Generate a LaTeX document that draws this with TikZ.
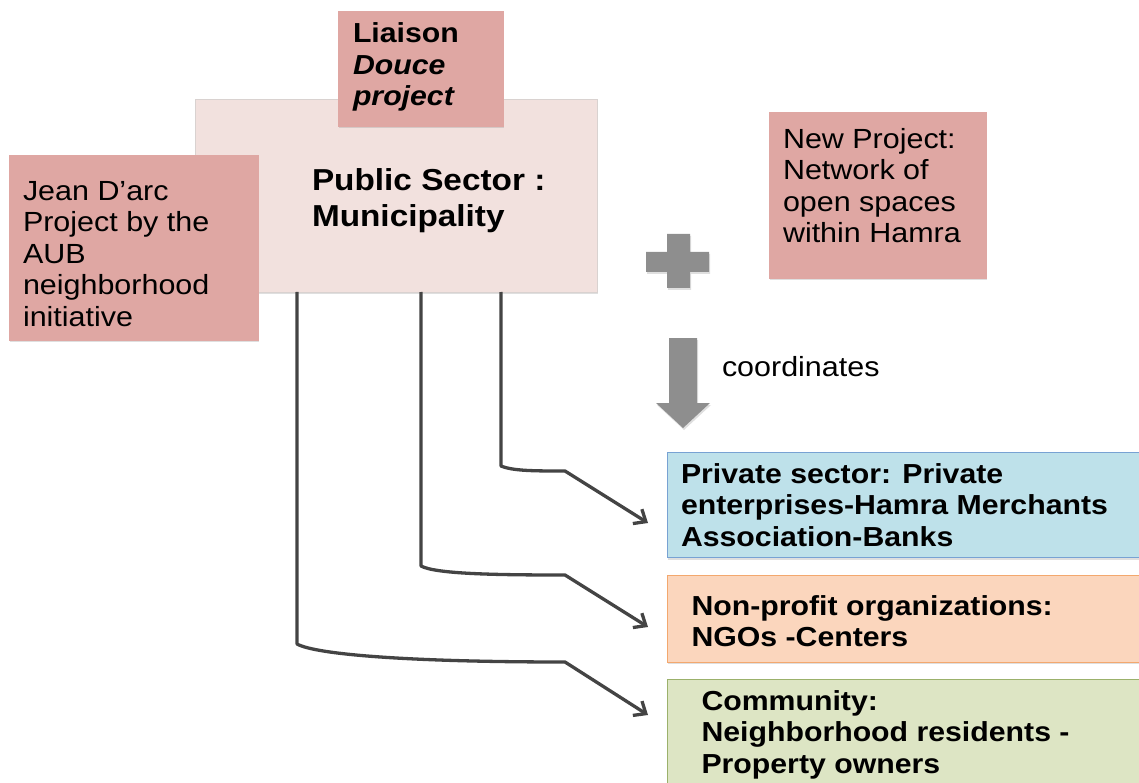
\documentclass[tikz,border=0pt]{standalone}
\usepackage{fontspec}
\setmainfont{Liberation Sans}[FakeStretch=1.1]
\usetikzlibrary{arrows.meta,shadows,calc}
\definecolor{pubfill}{HTML}{F2E1DE}
\definecolor{publine}{HTML}{D9D2D0}
\definecolor{pinkfill}{HTML}{DFA7A3}
\definecolor{plusgray}{HTML}{8E8E8E}
\definecolor{bluefill}{HTML}{BEE1EA}
\definecolor{blueline}{HTML}{78A2D3}
\definecolor{orangefill}{HTML}{FBD6BD}
\definecolor{orangeline}{HTML}{F3A86E}
\definecolor{greenfill}{HTML}{DDE5C4}
\definecolor{greenline}{HTML}{9BB16B}
\definecolor{conncol}{HTML}{444444}
\begin{document}
\begin{tikzpicture}[x=1pt,y=-1pt,
  box/.style={draw=#1, line width=0.9pt, anchor=north west, inner sep=0pt, outer sep=0pt,
    drop shadow={opacity=0.25,shadow xshift=1pt,shadow yshift=-2pt}},
  txt/.style={anchor=north west, inner sep=0pt, outer sep=0pt, align=left,
    font=\fontsize{27.7}{31.5}\selectfont},
  btxt/.style={txt, font=\fontsize{27.5}{31.5}\selectfont\bfseries},
  conn/.style={draw=conncol, line width=3.3pt, line join=round,
    -{Straight Barb[length=10pt,width=17pt]}},
  shape gray/.style={fill=plusgray, drop shadow={opacity=0.25,shadow xshift=1pt,shadow yshift=-2pt}}
]
\useasboundingbox (0,0) rectangle (1139,783);
\clip (0,0) rectangle (1139,783);

% public sector box
\node[box=publine, fill=pubfill, minimum width=402pt, minimum height=193pt] (pub) at (195,99) {};
\node[txt, font=\fontsize{30.3}{36}\selectfont\bfseries] (pubt) at (312,165.5) {\strut Public Sector :\\Municipality};

% liaison box
\node[box=pinkfill, fill=pinkfill, minimum width=165pt, minimum height=115pt] (lia) at (338,11) {};
\node[btxt] (liat) at (353,20.7) {\strut Liaison\\\itshape Douce\\\itshape project};

% Jean d'arc box
\node[box=pinkfill, fill=pinkfill, minimum width=249pt, minimum height=185pt] (jean) at (9,155) {};
\node[txt] (jeant) at (23,178) {\strut Jean D’arc\\Project by the\\AUB\\neighborhood\\initiative};

% new project box
\node[box=pinkfill, fill=pinkfill, minimum width=217pt, minimum height=166pt] (newp) at (769,112) {};
\node[txt] (newt) at (783,126.3) {\strut New Project:\\Network of\\open spaces\\within Hamra};

% plus sign
\path[shape gray] (667,234) -- (690,234) -- (690,252) -- (709,252) -- (709,272) -- (690,272)
  -- (690,288) -- (667,288) -- (667,272) -- (646,272) -- (646,252) -- (667,252) -- cycle;

% down arrow
\path[shape gray] (669,338) -- (697,338) -- (697,403) -- (710,403) -- (683,428) -- (656,403)
  -- (669,403) -- cycle;
\node[txt] (coord) at (722,354) {\strut coordinates};

% lower boxes
\node[box=blueline, fill=bluefill, minimum width=480pt, minimum height=105pt] (priv) at (667,452.5) {};
\node[btxt] (privt) at (681,461.3) {\strut Private sector: Private\\enterprises-Hamra Merchants\\Association-Banks};

\node[box=orangeline, fill=orangefill, minimum width=480pt, minimum height=87pt] (ngo) at (667,575) {};
\node[btxt] (ngot) at (691.5,593) {\strut Non-profit organizations:\\NGOs -Centers};

\node[box=greenline, fill=greenfill, minimum width=480pt, minimum height=120pt] (comm) at (667,679.3) {};
\node[btxt] (commt) at (701.5,688) {\strut Community:\\Neighborhood residents -\\Property owners};

% connectors
\coordinate (s1) at ($(pub.south west)!0.761!(pub.south east)$);
\coordinate (s2) at ($(pub.south west)!0.562!(pub.south east)$);
\coordinate (s3) at ($(pub.south west)!0.2537!(pub.south east)$);
\coordinate (b1) at (501,466);
\coordinate (k1) at (565,471);
\coordinate (t1) at (648,523);
\coordinate (b2) at (421,566);
\coordinate (k2) at (565,575);
\coordinate (t2) at (648,627);
\coordinate (b3) at (297,644);
\coordinate (k3) at (565,662);
\coordinate (t3) at (648,715);
\draw[conn] (s1) -- (b1) .. controls +(12,5) and +(-30,0) .. (k1) -- (t1);
\draw[conn] (s2) -- (b2) .. controls +(15,8) and +(-70,0) .. (k2) -- (t2);
\draw[conn] (s3) -- (b3) .. controls +(20,11) and +(-150,0) .. (k3) -- (t3);
\end{tikzpicture}
\end{document}
